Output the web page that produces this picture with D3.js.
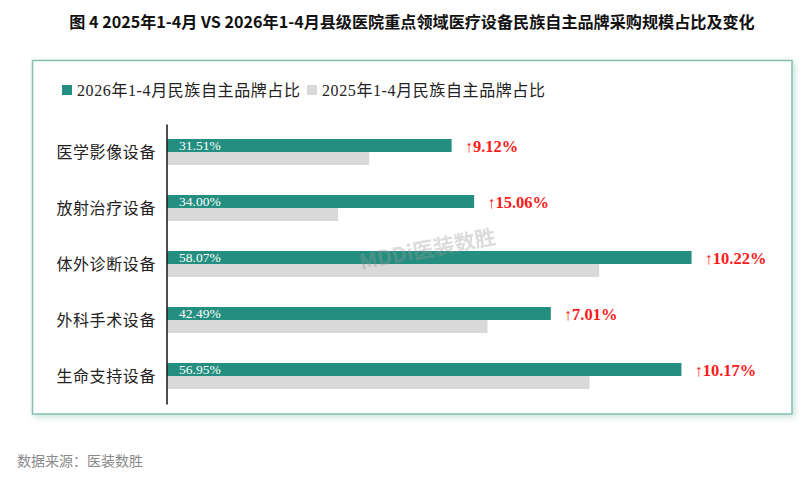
<!DOCTYPE html>
<html>
<head>
<meta charset="utf-8">
<script src="https://cdn.jsdelivr.net/npm/d3@7"></script>
<style>
  html, body { margin: 0; padding: 0; background: #fff; }
  svg { display: block; }
</style>
</head>
<body>
<svg id="chart" width="810" height="481"></svg>
<script>
const title = "图 4 2025年1-4月 VS 2026年1-4月县级医院重点领域医疗设备民族自主品牌采购规模占比及变化";
const source = "数据来源：医装数胜";
const watermark = "MDDi医装数胜";
const categories = ["医学影像设备", "放射治疗设备", "体外诊断设备", "外科手术设备", "生命支持设备"];
const seriesNames = ["2026年1-4月民族自主品牌占比", "2025年1-4月民族自主品牌占比"];
const values2026 = [31.51, 34.00, 58.07, 42.49, 56.95];
const values2025 = [22.39, 18.94, 47.85, 35.48, 46.78];
const changes = ["↑9.12%", "↑15.06%", "↑10.22%", "↑7.01%", "↑10.17%"];

const colors = ["#248f80", "#d9d9d9"];
const serif = "'Liberation Serif', 'Noto Sans CJK SC', serif";
const svg = d3.select("#chart");

// shadow filter
const defs = svg.append("defs");
const f = defs.append("filter").attr("id", "sh").attr("x", "-5%").attr("y", "-5%").attr("width", "110%").attr("height", "115%");
f.append("feDropShadow").attr("dx", 2).attr("dy", 2).attr("stdDeviation", 3)
  .attr("flood-color", "#7fb8ac").attr("flood-opacity", 0.45);

// panel
svg.append("rect").attr("x", 32.5).attr("y", 60.5).attr("width", 759.5).attr("height", 353.5)
  .attr("fill", "#fff").attr("stroke", "#86bfb2").attr("stroke-width", 1.5).attr("filter", "url(#sh)");

// title
const t = svg.append("text").attr("x", 412).attr("y", 28).attr("text-anchor", "middle")
  .attr("font-family", "'Noto Sans CJK SC', sans-serif").attr("font-weight", "bold")
  .attr("font-size", 16).attr("fill", "#111").text(title);
const tw = t.node().getComputedTextLength();
t.attr("font-size", 16 * 686 / tw);

// scales
const x = d3.scaleLinear().domain([0, 60]).range([167, 709]);
const y = d3.scaleBand().domain(categories).range([124, 404]).padding(0);
const ySub = d3.scaleBand().domain(seriesNames).range([-13, 13]).padding(0);

// legend
const legendX = [62, 307];
seriesNames.forEach((s, i) => {
  const g = svg.append("g").attr("transform", `translate(${legendX[i]},0)`);
  g.append("rect").attr("x", 0).attr("y", 85).attr("width", 10).attr("height", 10).attr("fill", colors[i]);
  g.append("text").attr("x", 15).attr("y", 95.5).attr("font-family", serif).attr("font-size", 16)
    .attr("letter-spacing", 0.6).attr("fill", "#222").text(s);
});

// bars
const rows = categories.map((c, i) => ({c, v: [values2026[i], values2025[i]], ch: changes[i]}));
const grp = svg.append("g").selectAll("g").data(rows).join("g")
  .attr("transform", d => `translate(0,${y(d.c) + y.bandwidth() / 2})`);

grp.selectAll("rect").data(d => seriesNames.map((s, j) => ({s, v: d.v[j], j}))).join("rect")
  .attr("x", x(0)).attr("y", d => ySub(d.s)).attr("width", d => x(d.v) - x(0))
  .attr("height", ySub.bandwidth()).attr("fill", d => colors[d.j]);

grp.append("text").attr("x", x(0) + 12).attr("y", ySub(seriesNames[0]) + ySub.bandwidth() - 2)
  .attr("font-family", serif).attr("font-size", 13.5).attr("fill", "#fff")
  .text(d => d.v[0].toFixed(2) + "%");

grp.append("text").attr("x", d => x(d.v[0]) + 13).attr("y", ySub(seriesNames[0]) + ySub.bandwidth() / 2 + 6)
  .attr("font-family", serif).attr("font-size", 16.5).attr("font-weight", "bold").attr("fill", "#ff1a1a")
  .text(d => d.ch);

// category labels
grp.append("text").attr("x", 156).attr("y", 5.5).attr("text-anchor", "end")
  .attr("font-family", serif).attr("font-size", 16).attr("letter-spacing", 0.6).attr("fill", "#222")
  .text(d => d.c);

// axis line
const yAxis = d3.axisLeft(y).tickSize(0).tickFormat("");
svg.append("g").attr("transform", `translate(${x(0) - 0.5},0)`).call(yAxis)
  .call(g => g.select(".domain").attr("stroke", "#222").attr("stroke-width", 1.6));

// watermark
svg.append("text").attr("transform", "translate(428,251) rotate(-11)").attr("text-anchor", "middle")
  .attr("dominant-baseline", "middle")
  .attr("font-family", "'Noto Sans CJK SC', sans-serif").attr("font-weight", "bold").attr("font-size", 21)
  .attr("fill", "#999").attr("opacity", 0.35).text(watermark);

// source
svg.append("text").attr("x", 17).attr("y", 466).attr("font-family", "'Noto Sans CJK SC', sans-serif")
  .attr("font-size", 14).attr("fill", "#8a8a8a").text(source);
</script>
</body>
</html>
